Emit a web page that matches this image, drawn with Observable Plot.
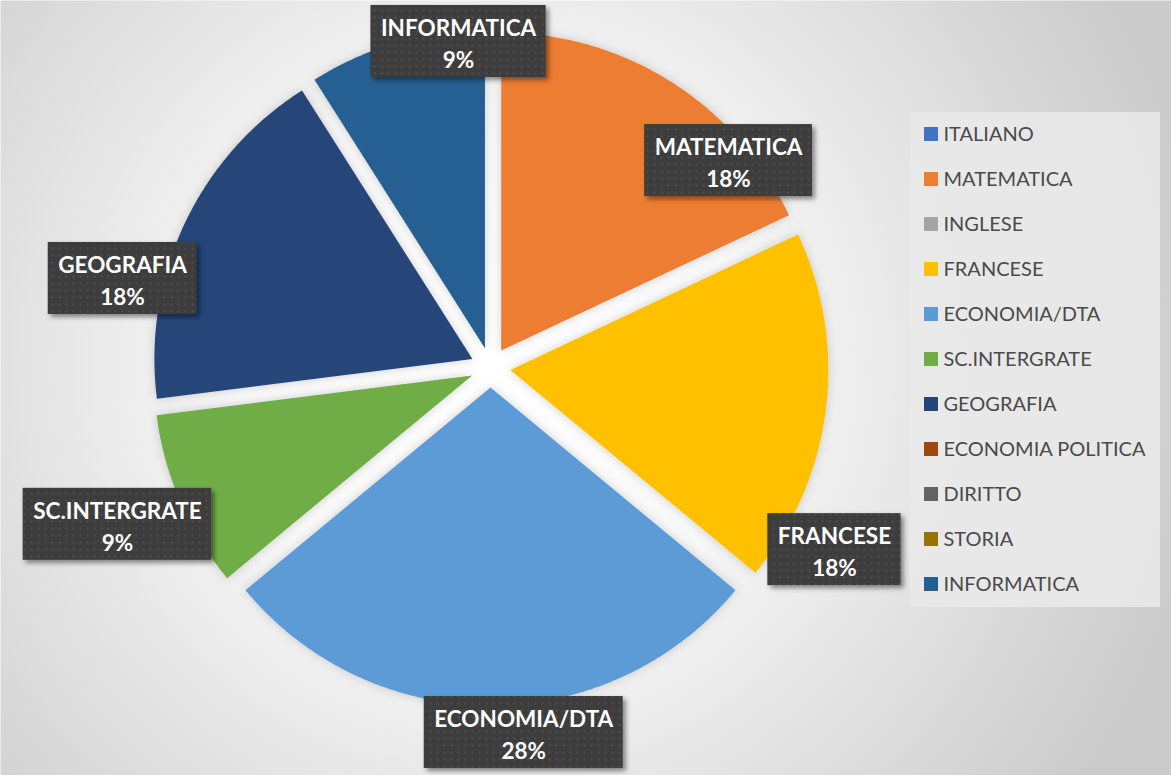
<!DOCTYPE html>
<html><head><meta charset="utf-8">
<script src="https://cdn.jsdelivr.net/npm/d3@7"></script>
<script src="https://cdn.jsdelivr.net/npm/@observablehq/plot@0.6"></script>
<style>body{margin:0;background:#fff;overflow:hidden}</style>
</head><body><div id="chart"></div>
<script>
// ---- data ----
const subjects = ["ITALIANO","MATEMATICA","INGLESE","FRANCESE","ECONOMIA/DTA","SC.INTERGRATE","GEOGRAFIA","ECONOMIA POLITICA","DIRITTO","STORIA","INFORMATICA"];
const shares = [0, 18, 0, 18, 28, 9, 18, 0, 0, 0, 9];
const colors = ["#4472C4","#ED7D31","#A5A5A5","#FFC000","#5B9BD5","#70AD47","#264478","#9E480E","#636363","#997300","#255E91"];

// ---- layout (not data) ----
const W = 1171, H = 775, CX = 490, CY = 367, R = 318, EXPLODE = 20;
// label box centre, polar (degrees clockwise from top, px radius) around pie centre
const labelPlacement = {
  "INFORMATICA": [354.4, 327.6],
  "MATEMATICA": [49.0, 315.4],
  "FRANCESE": [117.9, 389.2],
  "ECONOMIA/DTA": [174.8, 366.5],
  "SC.INTERGRATE": [247.2, 404.7],
  "GEOGRAFIA": [283.6, 378.6]
};
const LABEL_FONT = 22.5, LABEL_FAMILY = "Lato", LEG_FONT = 20;

const rows = subjects.map((s, i) => ({subject: s, value: shares[i]}));
const total = d3.sum(shares);
const arcs = d3.pie().sort(null).value(d => d.value)(rows);

const slicePts = [];
arcs.filter(a => a.value > 0).forEach(a => {
  const s = a.data.subject;
  const mid = (a.startAngle + a.endAngle) / 2;
  const ox = CX + EXPLODE * Math.sin(mid), oy = CY - EXPLODE * Math.cos(mid);
  slicePts.push({subject: s, x: ox, y: oy});
  const n = Math.max(2, Math.ceil((a.endAngle - a.startAngle) / (Math.PI / 360)));
  for (let i = 0; i <= n; i++) {
    const t = a.startAngle + (a.endAngle - a.startAngle) * i / n;
    slicePts.push({subject: s, x: ox + R * Math.sin(t), y: oy - R * Math.cos(t)});
  }
  slicePts.push({subject: s, x: ox, y: oy});
});

const ctx = document.createElement("canvas").getContext("2d");
ctx.font = `bold ${LABEL_FONT}px ${LABEL_FAMILY}`;
const labels = arcs.filter(a => a.value > 0).map(a => {
  const s = a.data.subject;
  const pct = Math.round(a.value / total * 100) + "%";
  const [deg, rad] = labelPlacement[s];
  const t = deg * Math.PI / 180;
  const x = CX + rad * Math.sin(t), y = CY - rad * Math.cos(t);
  const w = Math.max(ctx.measureText(s).width, ctx.measureText(pct).width) + 20;
  const h = 72;
  return {subject: s, text: s + "\n" + pct, x, y, x1: x - w / 2, x2: x + w / 2, y1: y - h / 2, y2: y + h / 2};
});

const legend = subjects.map((s, i) => ({subject: s, y: 134 + i * 45}));

const svg = Plot.plot({
  width: W, height: H, margin: 0,
  x: {domain: [0, W], range: [0, W], axis: null},
  y: {domain: [0, H], range: [0, H], axis: null},
  color: {domain: subjects, range: colors},
  marks: [
    Plot.frame({fill: "url(#bg)", stroke: "none"}),
    Plot.line(slicePts, {x: "x", y: "y", z: "subject", fill: "subject", stroke: "none", curve: "linear"}),
    Plot.rect(labels, {x1: "x1", x2: "x2", y1: "y1", y2: "y2", fill: "url(#dots)"}),
    Plot.text(labels, {x: "x", y: "y", text: "text", fill: "white", fontSize: LABEL_FONT, fontWeight: "bold", fontFamily: LABEL_FAMILY, lineHeight: 1.42, lineAnchor: "middle"}),
    Plot.rect([{}], {x1: () => 910, x2: () => 1160, y1: () => 112, y2: () => 607, fill: "#e9e9e9", fillOpacity: 0.9}),
    Plot.rect(legend, {x1: () => 924, x2: () => 938, y1: d => d.y - 7, y2: d => d.y + 7, fill: "subject"}),
    Plot.text(legend, {x: () => 943, y: "y", text: "subject", textAnchor: "start", fill: "#4a4a4a", fontSize: LEG_FONT, fontFamily: "Lato"})
  ]
});

const defs = document.createElementNS("http://www.w3.org/2000/svg", "defs");
defs.innerHTML = `
<radialGradient id="bg" gradientUnits="userSpaceOnUse" cx="${CX}" cy="${CY}" r="720">
  <stop offset="0" stop-color="#ffffff"/><stop offset="0.35" stop-color="#f8f8f8"/><stop offset="1" stop-color="#cbcbcb"/>
</radialGradient>
<pattern id="dots" width="7" height="7" patternUnits="userSpaceOnUse">
  <rect width="7" height="7" fill="#3c3c3c"/><circle cx="3.5" cy="3.5" r="1.3" fill="#4c4c4c"/>
</pattern>
<filter id="boxShadow" x="-20%" y="-20%" width="140%" height="150%">
  <feDropShadow dx="3" dy="3" stdDeviation="2.5" flood-color="#000" flood-opacity="0.45"/>
</filter>
<filter id="sliceShadow" x="-10%" y="-10%" width="120%" height="120%">
  <feDropShadow dx="0" dy="0" stdDeviation="5" flood-color="#000" flood-opacity="0.18"/>
</filter>`;
svg.insertBefore(defs, svg.firstChild);
const lines = svg.querySelectorAll('g[aria-label="line"]');
lines.forEach(g => g.setAttribute("filter", "url(#sliceShadow)"));
const rects = svg.querySelectorAll('g[aria-label="rect"]');
if (rects[0]) rects[0].setAttribute("filter", "url(#boxShadow)");
document.getElementById("chart").appendChild(svg);
</script>
</body></html>
